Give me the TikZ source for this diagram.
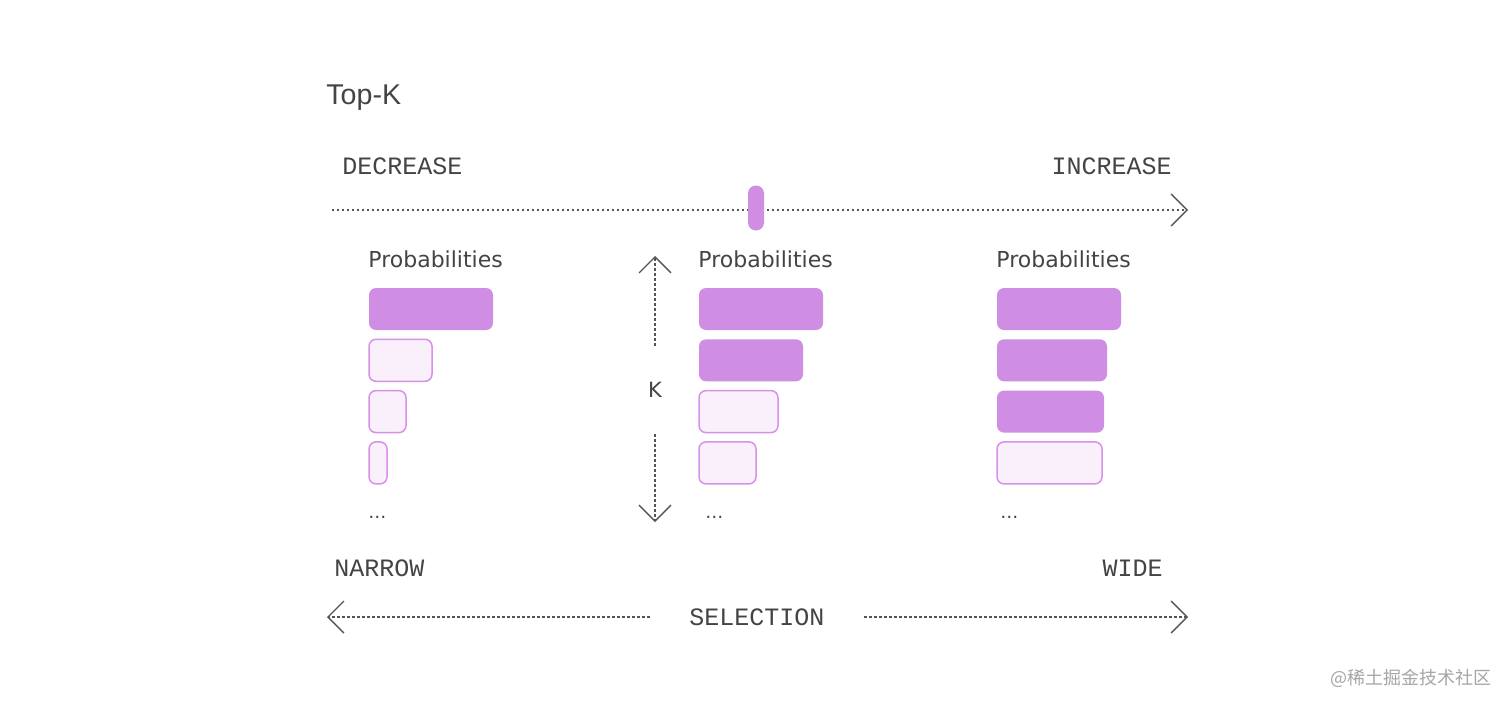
\documentclass[tikz,border=0pt]{standalone}
\usepackage{fontspec}
\setmainfont{DejaVu Sans}
\newfontfamily\monofont{Liberation Mono}
\newfontfamily\titlefont{Liberation Sans}
\newfontfamily\cjk{Noto Sans CJK SC}
\usetikzlibrary{arrows.meta}
\definecolor{barfill}{HTML}{CF8EE3}
\definecolor{barlight}{HTML}{F9F0FC}
\definecolor{barline}{HTML}{D990E8}
\definecolor{inkgray}{HTML}{444444}
\definecolor{dotgray}{HTML}{555555}
\begin{document}
\begin{tikzpicture}[x=0.5pt, y=-0.5pt,
		axis/.style={dotgray, line width=0.6pt, dash pattern=on 1.2pt off 1.3pt},
		tip/.style={-{Straight Barb[length=8pt, width=16pt, line width=0.7pt]}},
		mono/.style={inner sep=0, text=inkgray, font=\monofont\fontsize{12.5}{14}\selectfont},
		label/.style={inner sep=0, text=inkgray, font=\fontsize{11}{13}\selectfont},
		barhigh/.style={fill=barfill, rounded corners=3.5pt},
		barlow/.style={fill=barlight, draw=barline, line width=0.75pt, rounded corners=3.5pt}]
	\fill[white] (0,0) rectangle (1512,707);
	\useasboundingbox (0,0) rectangle (1512,707);
	% title
	\node[anchor=base west, inner sep=0, text=inkgray, font=\titlefont\fontsize{14.3}{16}\selectfont] (title) at (326,104) {Top-K};
	% top slider
	\node[mono, anchor=base west] (dec) at (342,174) {DECREASE};
	\node[mono, anchor=base east] (inc) at (1172,174) {INCREASE};
	\coordinate (sl) at (332,210);
	\coordinate (sr) at (1188,210);
	\draw[axis, tip] (sl) -- (sr);
	\node[fill=barfill, rounded corners=4pt, inner sep=0, minimum width=8pt, minimum height=22.5pt] (knob) at (756,208) {};
	% probability bars
	\foreach \cx/\kk/\ws in {369/1/{124,63,37,18}, 699/2/{124,104,79,57}, 997/3/{124,110,107,105}}{
		\node[label, anchor=base west] (prob\kk) at (\cx-1,267) {Probabilities};
		\foreach \w [count=\i] in \ws {
			\pgfmathsetmacro{\ty}{288+(\i-1)*51.3}
			\ifnum\i>\kk
				\draw[barlow] (\cx,\ty) rectangle ++(\w,42);
			\else
				\fill[barhigh] (\cx,\ty) rectangle ++(\w,42);
			\fi
		}
	}
	\node[label, anchor=base west, font=\fontsize{9}{10}\selectfont] (more1) at (368,518) {…};
	\node[label, anchor=base west, font=\fontsize{9}{10}\selectfont] (more2) at (705,518) {…};
	\node[label, anchor=base west, font=\fontsize{9}{10}\selectfont] (more3) at (1000,518) {…};
	% K arrow
	\node[label, font=\fontsize{10.5}{12}\selectfont, minimum height=44pt] (k) at (655,390) {K};
	\coordinate (kt) at (655,256);
	\coordinate (kb) at (655,522);
	\draw[axis, tip] (k) -- (kt);
	\draw[axis, tip] (k) -- (kb);
	% bottom selection
	\node[mono, anchor=base west] (nar) at (334,576) {NARROW};
	\node[mono, anchor=base east] (wide) at (1163,576) {WIDE};
	\node[mono, minimum width=107pt] (sel) at (757,617) {SELECTION};
	\coordinate (bl) at (327,617);
	\coordinate (br) at (1188,617);
	\draw[axis, tip] (sel) -- (bl);
	\draw[axis, tip] (sel) -- (br);
	% watermark
	\node[anchor=base east, inner sep=0, text=black!35, font=\cjk\fontsize{9}{11}\selectfont] (mark) at (1492,684) {@稀土掘金技术社区};
\end{tikzpicture}
\end{document}
